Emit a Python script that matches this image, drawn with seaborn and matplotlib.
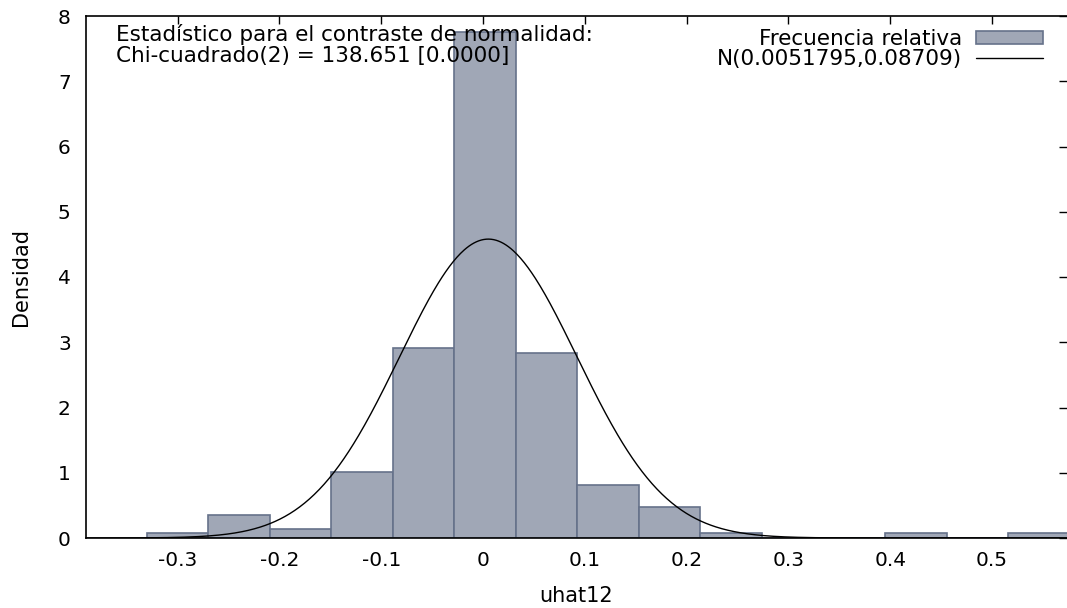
import numpy as np
import matplotlib
matplotlib.use("Agg")
import matplotlib.pyplot as plt
import seaborn as sns
from matplotlib.patches import Patch
from matplotlib.lines import Line2D

# ---- data ----
bin_edges = [-0.3305, -0.2700, -0.2096, -0.1492, -0.0887, -0.0283, 0.0322,
             0.0926, 0.1531, 0.2135, 0.2740, 0.3344, 0.3949, 0.4553, 0.5158, 0.5762]
bin_centers = [-0.3003, -0.2398, -0.1794, -0.1189, -0.0585, 0.0020, 0.0624,
               0.1229, 0.1833, 0.2438, 0.3042, 0.3647, 0.4251, 0.4856, 0.5460]
rel_density = [0.081, 0.348, 0.138, 1.01, 2.91, 7.76, 2.84,
               0.817, 0.48, 0.081, 0.0, 0.0, 0.081, 0.0, 0.081]
norm_mean = 0.0051795
norm_sd = 0.08709
x_ticks = [-0.3, -0.2, -0.1, 0.0, 0.1, 0.2, 0.3, 0.4, 0.5]
x_tick_labels = ["-0.3", "-0.2", "-0.1", "0", "0.1", "0.2", "0.3", "0.4", "0.5"]
y_ticks = [0, 1, 2, 3, 4, 5, 6, 7, 8]
stat_lines = ["Estadístico para el contraste de normalidad:",
              "Chi-cuadrado(2) = 138.651 [0.0000]"]
legend_labels = ["Frecuencia relativa", "N(0.0051795,0.08709)"]

BAR_FILL = "#a0a7b6"
BAR_EDGE = "#66728a"

sns.set_theme(style="white")
plt.rcParams["font.family"] = ["DejaVu Sans"]
plt.rcParams["axes.unicode_minus"] = False

W, H = 1067, 608
fig = plt.figure(figsize=(W / 100, H / 100), dpi=100)
fig.patch.set_facecolor("white")
ax = fig.add_axes([86 / W, 1 - 538 / H, (1067 - 86) / W, (538 - 16) / H])
ax.set_facecolor("white")

sns.histplot(x=bin_centers, weights=rel_density, bins=bin_edges, stat="count",
             color=BAR_FILL, edgecolor=BAR_EDGE, linewidth=1.2, alpha=1.0, ax=ax)

xs = np.linspace(-0.39, 0.5736, 800)
pdf = np.exp(-0.5 * ((xs - norm_mean) / norm_sd) ** 2) / (norm_sd * np.sqrt(2 * np.pi))
sns.lineplot(x=xs, y=pdf, color="black", linewidth=1.0, ax=ax)

ax.set_xlim(-0.39, 0.5736)
ax.set_ylim(0, 8)
ax.set_xticks(x_ticks)
ax.set_xticklabels(x_tick_labels)
ax.set_yticks(y_ticks)
ax.tick_params(axis="both", direction="in", length=6, width=1.0, color="black",
               labelsize=14.5, labelcolor="black", top=True, right=True)
ax.tick_params(axis="y", pad=11)
ax.tick_params(axis="x", pad=9)
for s in ["left", "bottom", "top"]:
    ax.spines[s].set_visible(True)
    ax.spines[s].set_color("black")
    ax.spines[s].set_linewidth(1.2)
ax.spines["right"].set_visible(False)

ax.set_xlabel("uhat12", fontsize=15, color="black", labelpad=12)
ax.set_ylabel("Densidad", fontsize=15, color="black", labelpad=19)

fig.text(116 / W, 1 - 41 / H, stat_lines[0], fontsize=15.5, color="black",
         ha="left", va="baseline")
fig.text(116 / W, 1 - 62 / H, stat_lines[1], fontsize=15.5, color="black",
         ha="left", va="baseline")

handles = [Patch(facecolor=BAR_FILL, edgecolor=BAR_EDGE, linewidth=1.2),
           Line2D([0], [0], color="black", linewidth=1.0)]
ax.legend(handles, legend_labels, loc="upper right", markerfirst=False,
          frameon=False, fontsize=15.5, labelcolor="black",
          handlelength=3.1, handleheight=0.53,
          handletextpad=0.65, labelspacing=0.02, borderpad=0, borderaxespad=0,
          bbox_to_anchor=(1043 / W, 1 - 29 / H), bbox_transform=fig.transFigure)

fig.savefig("out.png", dpi=100, facecolor="white")
